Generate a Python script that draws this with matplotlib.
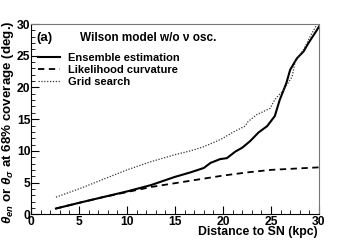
import matplotlib
matplotlib.use("Agg")
import matplotlib.pyplot as plt
from matplotlib.ticker import MultipleLocator

plt.rcParams['font.family'] = ['Liberation Sans', 'DejaVu Sans']
plt.rcParams['font.weight'] = 'bold'
plt.rcParams['mathtext.fontset'] = 'custom'
plt.rcParams['mathtext.rm'] = 'Liberation Sans'
plt.rcParams['mathtext.it'] = 'Liberation Sans:italic'

# ensemble estimation (solid)
ens_x = [2.6, 5.0, 7.5, 10.0, 12.5, 15.0, 16.6, 18.0, 18.7, 19.7, 20.4, 21.3, 22.0,
         22.8, 23.7, 24.6, 25.1, 25.4, 25.9, 26.6, 27.0, 27.7, 28.4, 28.9, 29.8, 30.0]
ens_y = [0.9, 1.8, 2.7, 3.6, 4.6, 5.9, 6.6, 7.3, 8.1, 8.7, 8.85, 9.9, 10.5,
         11.5, 12.9, 13.9, 14.9, 15.5, 18.0, 20.7, 22.8, 24.6, 25.7, 27.0, 29.1, 29.6]

# likelihood curvature (dashed)
lik_x = [2.6, 5.0, 7.5, 10.0, 12.5, 15.0, 17.5, 20.0, 22.5, 25.0, 27.5, 30.0]
lik_y = [0.9, 1.8, 2.7, 3.5, 4.3, 4.9, 5.5, 6.1, 6.6, 7.0, 7.2, 7.4]

# grid search (dotted)
grid_x = [2.6, 5.0, 7.5, 10.0, 12.5, 15.0, 16.6, 17.9, 19.3, 20.0, 21.1, 22.3, 22.6,
          23.5, 24.9, 25.4, 26.3, 27.2, 27.5, 28.4, 29.1, 29.8]
grid_y = [2.7, 4.0, 5.5, 7.0, 8.3, 9.4, 10.0, 10.6, 11.5, 12.0, 13.0, 13.9, 14.6,
          15.7, 16.7, 18.1, 19.6, 21.7, 24.0, 26.0, 28.1, 30.0]

fig = plt.figure(figsize=(3.54, 2.41), dpi=100)
ax = fig.add_axes([0.0876, 0.111, 0.8135, 0.789])

ax.plot(ens_x, ens_y, color='black', lw=1.5, ls='-', label='Ensemble estimation')
ax.plot(lik_x, lik_y, color='black', lw=1.3, ls=(0, (3.5, 2.5)), label='Likelihood curvature')
ax.plot(grid_x, grid_y, color='#333333', lw=0.9, ls=(0, (1.0, 1.3)), label='Grid search')

ax.set_xlim(0, 30)
ax.set_ylim(0, 30)
ax.xaxis.set_major_locator(MultipleLocator(5))
ax.xaxis.set_minor_locator(MultipleLocator(1))
ax.yaxis.set_major_locator(MultipleLocator(5))
ax.yaxis.set_minor_locator(MultipleLocator(1))
ax.tick_params(which='both', direction='in', top=False, right=False, labelsize=8.7)
ax.tick_params(axis='x', pad=1.5)
ax.tick_params(axis='y', pad=0.5)
ax.tick_params(which='major', length=6, width=0.8)
ax.tick_params(which='minor', length=3, width=0.6)
for lab in ax.get_xticklabels() + ax.get_yticklabels():
    lab.set_fontweight('bold')
for s in ['top', 'right']:
    ax.spines[s].set_color('#777777')

fig.text(0.897, 0.064, 'Distance to SN (kpc)', fontsize=8.8, fontweight='bold',
         ha='right', va='top')
fig.text(0.022, 0.915, r'$\theta_{en}$ or $\theta_{\sigma}$ at 68% coverage (deg.)', fontsize=9.6,
         fontweight='bold', rotation=90, ha='center', va='top')

ax.text(0.6, 27.8, '(a)', fontsize=9.5, fontweight='bold', va='center')
ax.text(5.1, 27.8, 'Wilson model w/o \u03bd osc.', fontsize=8.5, fontweight='bold', va='center')

leg = ax.legend(loc='upper left', bbox_to_anchor=(0.025, 0.85), frameon=False,
                prop={'size': 8, 'weight': 'bold'}, handlelength=2.0, handletextpad=0.65,
                labelspacing=0.2, borderaxespad=0, borderpad=0)

fig.savefig('out.png', dpi=100)
